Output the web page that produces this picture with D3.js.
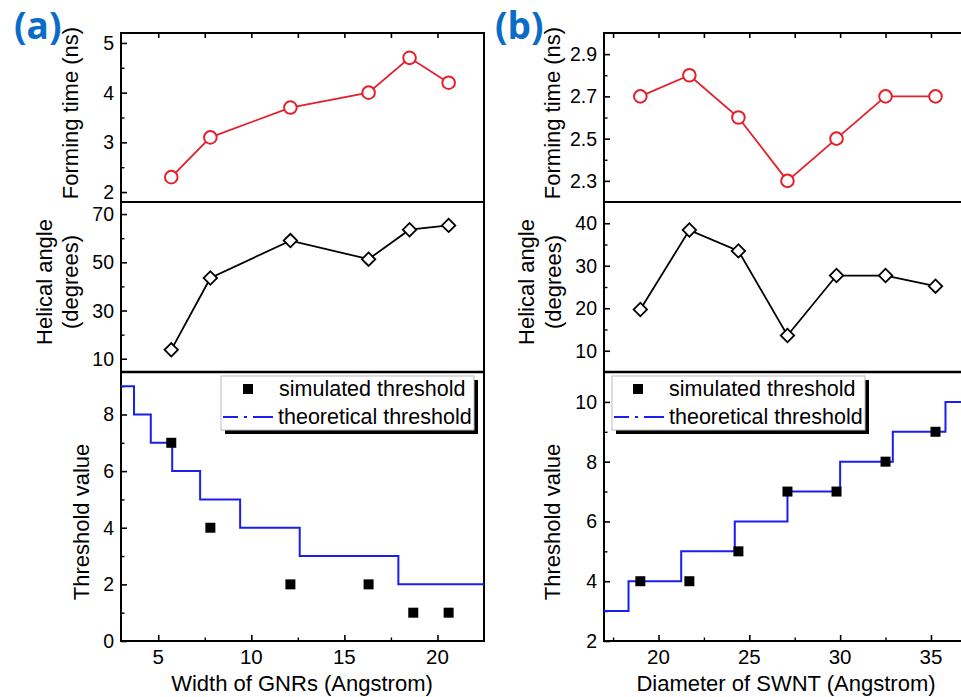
<!DOCTYPE html>
<html><head><meta charset="utf-8">
<script src="https://cdn.jsdelivr.net/npm/d3@7"></script>
<style>
html,body{margin:0;padding:0;background:#fff;}
svg{display:block;font-family:"Liberation Sans",Arial,sans-serif;}
</style></head>
<body>
<svg id="c" width="961" height="697"></svg>
<script>
// ---------- data (a): GNRs ----------
const gnrWidth      = [5.7, 7.8, 12.1, 16.3, 18.5, 20.6];
const gnrFormTime   = [2.3, 3.1, 3.7, 4.0, 4.7, 4.2];
const gnrHelAngle   = [13.7, 43.5, 59.0, 51.3, 63.5, 65.3];
const gnrSimX       = [5.7, 7.8, 12.1, 16.3, 18.7, 20.6];
const gnrSimThr     = [7, 4, 2, 2, 1, 1];
const gnrStepX      = [3, 3.7, 4.6, 5.75, 7.25, 9.4, 12.6, 17.9, 22.5];
const gnrStepY      = [9, 8, 7, 6, 5, 4, 3, 2, 2];
// ---------- data (b): SWNT ----------
const swntDiam      = [19.0, 21.7, 24.4, 27.1, 29.8, 32.5, 35.25];
const swntFormTime  = [2.7, 2.8, 2.6, 2.3, 2.5, 2.7, 2.7];
const swntHelAngle  = [19.7, 38.4, 33.5, 13.6, 27.7, 27.7, 25.2];
const swntSimThr    = [4, 4, 5, 7, 7, 8, 9];
const swntStepX     = [17, 18.35, 21.25, 24.2, 27.1, 30.0, 32.9, 35.8, 37.7];
const swntStepY     = [3, 4, 5, 6, 7, 8, 9, 10, 10];
// ---------- ticks ----------
const gnrXTicks = [5, 10, 15, 20],          gnrXMinor = [7.5, 12.5, 17.5];
const swntXTicks = [20, 25, 30, 35],        swntXMinor = [17.5, 22.5, 27.5, 32.5, 37.5];
const gnrFTicks = [2, 3, 4, 5],             gnrFMinor = [2.5, 3.5, 4.5];
const gnrHTicks = [10, 30, 50, 70],         gnrHMinor = [20, 40, 60];
const gnrTTicks = [0, 2, 4, 6, 8],          gnrTMinor = [1, 3, 5, 7, 9];
const swntFTicks = [2.3, 2.5, 2.7, 2.9],    swntFMinor = [2.4, 2.6, 2.8];
const swntHTicks = [10, 20, 30, 40],        swntHMinor = [15, 25, 35];
const swntTTicks = [2, 4, 6, 8, 10],        swntTMinor = [3, 5, 7, 9];
const legendLabels = ["simulated threshold", "theoretical threshold"];

const svg = d3.select("#c");
const RED = "#e3202b", BLUE = "#1a1ff0", LBLUE = "#0b6cc6";
const TOP = 33, DIV1 = 202, DIV2 = 372, BOT = 641;

function panel(o) {
  const g = svg.append("g");
  const x = d3.scaleLinear().domain(o.xDom).range([o.x0, o.x1]);
  const yF = d3.scaleLinear().domain(o.fDom).range([DIV1, TOP]);
  const yH = d3.scaleLinear().domain(o.hDom).range([DIV2, DIV1]);
  const yT = d3.scaleLinear().domain(o.tDom).range([BOT, DIV2]);
  const clipId = "clip" + o.id;
  svg.append("clipPath").attr("id", clipId).append("rect")
    .attr("x", o.x0).attr("y", TOP).attr("width", Math.min(o.x1, 961) - o.x0).attr("height", BOT - TOP);

  function yAxis(scale, major, minor, fmt) {
    const a = g.append("g").attr("transform", `translate(${o.x0},0)`)
      .call(d3.axisRight(scale).tickValues(major).tickSize(6).tickFormat(""));
    a.select(".domain").remove();
    a.selectAll("line").attr("stroke", "#000").attr("stroke-width", 1.6);
    const b = g.append("g").attr("transform", `translate(${o.x0},0)`)
      .call(d3.axisRight(scale).tickValues(minor).tickSize(3.5).tickFormat(""));
    b.select(".domain").remove();
    b.selectAll("line").attr("stroke", "#000").attr("stroke-width", 1.4);
    g.selectAll(null).data(major).enter().append("text")
      .attr("x", o.x0 - 7).attr("y", d => scale(d)).attr("dy", "0.36em")
      .attr("text-anchor", "end").attr("font-size", 19.5).text(fmt);
  }
  yAxis(yF, o.fTicks, o.fMinor, o.fFmt);
  yAxis(yH, o.hTicks, o.hMinor, d => d);
  yAxis(yT, o.tTicks, o.tMinor, d => d);

  const xb = g.append("g").attr("transform", `translate(0,${BOT})`)
    .call(d3.axisTop(x).tickValues(o.xTicks).tickSize(6).tickFormat(""));
  xb.select(".domain").remove();
  xb.selectAll("line").attr("stroke", "#000").attr("stroke-width", 1.6);
  const xbm = g.append("g").attr("transform", `translate(0,${BOT})`)
    .call(d3.axisTop(x).tickValues(o.xMinor.filter(v => x(v) < 961)).tickSize(3.5).tickFormat(""));
  xbm.select(".domain").remove();
  xbm.selectAll("line").attr("stroke", "#000").attr("stroke-width", 1.4);
  const xt = g.append("g").attr("transform", `translate(0,${TOP})`)
    .call(d3.axisBottom(x).tickValues(o.xTicks.concat(o.xMinor.filter(v => x(v) < 961))).tickSize(5).tickFormat(""));
  xt.select(".domain").remove();
  xt.selectAll("line").attr("stroke", "#000").attr("stroke-width", 1.6);
  g.selectAll(null).data(o.xTicks).enter().append("text")
    .attr("x", d => x(d)).attr("y", BOT + 23).attr("text-anchor", "middle")
    .attr("font-size", 20.5).text(d => d);

  const fr = g.append("g").attr("stroke", "#000").attr("fill", "none");
  const xr = Math.min(o.x1, 962);
  fr.append("line").attr("x1", o.x0).attr("x2", xr).attr("y1", TOP).attr("y2", TOP).attr("stroke-width", 2);
  fr.append("line").attr("x1", o.x0).attr("x2", xr).attr("y1", DIV1).attr("y2", DIV1).attr("stroke-width", 2);
  fr.append("line").attr("x1", o.x0).attr("x2", xr).attr("y1", DIV2).attr("y2", DIV2).attr("stroke-width", 2.6);
  fr.append("line").attr("x1", o.x0).attr("x2", xr).attr("y1", BOT).attr("y2", BOT).attr("stroke-width", 2);
  fr.append("line").attr("x1", o.x0).attr("x2", o.x0).attr("y1", TOP - 1).attr("y2", BOT + 1).attr("stroke-width", 2);
  if (o.x1 < 961) fr.append("line").attr("x1", o.x1).attr("x2", o.x1).attr("y1", TOP - 1).attr("y2", BOT + 1).attr("stroke-width", 2);

  const dg = g.append("g").attr("clip-path", `url(#${clipId})`);
  const fPts = o.xs.map((v, i) => [v, o.form[i]]);
  dg.append("path").attr("d", d3.line().x(d => x(d[0])).y(d => yF(d[1]))(fPts))
    .attr("fill", "none").attr("stroke", RED).attr("stroke-width", 1.8);
  dg.selectAll(null).data(fPts).enter().append("circle")
    .attr("cx", d => x(d[0])).attr("cy", d => yF(d[1])).attr("r", 6.3)
    .attr("fill", "#fff").attr("stroke", RED).attr("stroke-width", 2);
  const hPts = o.xs.map((v, i) => [v, o.hel[i]]);
  dg.append("path").attr("d", d3.line().x(d => x(d[0])).y(d => yH(d[1]))(hPts))
    .attr("fill", "none").attr("stroke", "#000").attr("stroke-width", 1.8);
  const dia = d3.symbol().type(d3.symbolSquare).size(90);
  dg.selectAll(null).data(hPts).enter().append("path").attr("d", dia)
    .attr("transform", d => `translate(${x(d[0])},${yH(d[1])}) rotate(45)`)
    .attr("fill", "#fff").attr("stroke", "#000").attr("stroke-width", 1.8);
  const sPts = o.stepX.map((v, i) => [v, o.stepY[i]]);
  dg.append("path").attr("d", d3.line().curve(d3.curveStepAfter).x(d => x(d[0])).y(d => yT(d[1]))(sPts))
    .attr("fill", "none").attr("stroke", BLUE).attr("stroke-width", 2);
  const sq = d3.symbol().type(d3.symbolSquare).size(100);
  dg.selectAll(null).data(o.simX.map((v, i) => [v, o.sim[i]])).enter().append("path").attr("d", sq)
    .attr("transform", d => `translate(${x(d[0])},${yT(d[1])})`).attr("fill", "#000");

  const lx = o.legX, ly = 376, lw = 253, lh = 54;
  const lg = g.append("g");
  lg.append("rect").attr("x", lx + 4).attr("y", ly + 4).attr("width", lw).attr("height", lh).attr("fill", "#000");
  lg.append("rect").attr("x", lx).attr("y", ly).attr("width", lw).attr("height", lh)
    .attr("fill", "#fff").attr("stroke", "#bbb").attr("stroke-width", 1);
  lg.append("path").attr("d", sq).attr("transform", `translate(${lx + o.legSq},${ly + 13})`).attr("fill", "#000");
  lg.append("line").attr("x1", lx + 2).attr("x2", lx + 52).attr("y1", ly + 41).attr("y2", ly + 41)
    .attr("stroke", BLUE).attr("stroke-width", 2).attr("stroke-dasharray", "15 6 3 6 20");
  lg.append("text").attr("x", lx + o.legTx).attr("y", ly + 20).attr("font-size", 21.5).text(legendLabels[0]);
  lg.append("text").attr("x", lx + 57).attr("y", ly + 48).attr("font-size", 21.5).text(legendLabels[1]);

  function vtitle(lines, cy, baselines) {
    lines.forEach((t, i) => {
      g.append("text").attr("transform", `translate(${baselines[i]},${cy}) rotate(-90)`)
        .attr("text-anchor", "middle").attr("font-size", 22).text(t);
    });
  }
  vtitle(["Forming time (ns)"], 113, [o.tb]);
  vtitle(["Helical angle", "(degrees)"], 282, [o.hb1, o.hb2]);
  vtitle(["Threshold value"], 522, [o.tb2]);
  g.append("text").attr("x", o.xtx).attr("y", 691).attr("text-anchor", "middle")
    .attr("font-size", 22).text(o.xTitle);
  g.append("text").attr("x", o.lab[0]).attr("y", 39).attr("font-family", "'Open Sans', Lato, sans-serif")
    .attr("font-weight", "bold").attr("font-size", 37).attr("fill", LBLUE).text(o.label);
}

panel({
  id: "a", x0: 121, x1: 484, xDom: [3, 22.5], xs: gnrWidth, form: gnrFormTime, hel: gnrHelAngle,
  simX: gnrSimX, sim: gnrSimThr, stepX: gnrStepX, stepY: gnrStepY,
  fDom: [1.8, 5.2], hDom: [4.5, 75], tDom: [0, 9.5],
  fTicks: gnrFTicks, fMinor: gnrFMinor, fFmt: d => d, hTicks: gnrHTicks, hMinor: gnrHMinor,
  tTicks: gnrTTicks, tMinor: gnrTMinor, xTicks: gnrXTicks, xMinor: gnrXMinor,
  legX: 221, legSq: 27, legTx: 58,
  tb: 78, hb1: 52, hb2: 78, tb2: 89, xtx: 302, xTitle: "Width of GNRs (Angstrom)",
  label: "(a)", lab: [14]
});
panel({
  id: "b", x0: 604, x1: 980, xDom: [17, 37.7], xs: swntDiam, form: swntFormTime, hel: swntHelAngle,
  simX: swntDiam, sim: swntSimThr, stepX: swntStepX, stepY: swntStepY,
  fDom: [2.2, 3.0], hDom: [5, 45], tDom: [2, 11],
  fTicks: swntFTicks, fMinor: swntFMinor, fFmt: d3.format(".1f"), hTicks: swntHTicks, hMinor: swntHMinor,
  tTicks: swntTTicks, tMinor: swntTMinor, xTicks: swntXTicks, xMinor: swntXMinor,
  legX: 612, legSq: 26, legTx: 57,
  tb: 560, hb1: 534, hb2: 561, tb2: 560, xtx: 786, xTitle: "Diameter of SWNT (Angstrom)",
  label: "(b)", lab: [495]
});
</script>
</body></html>
